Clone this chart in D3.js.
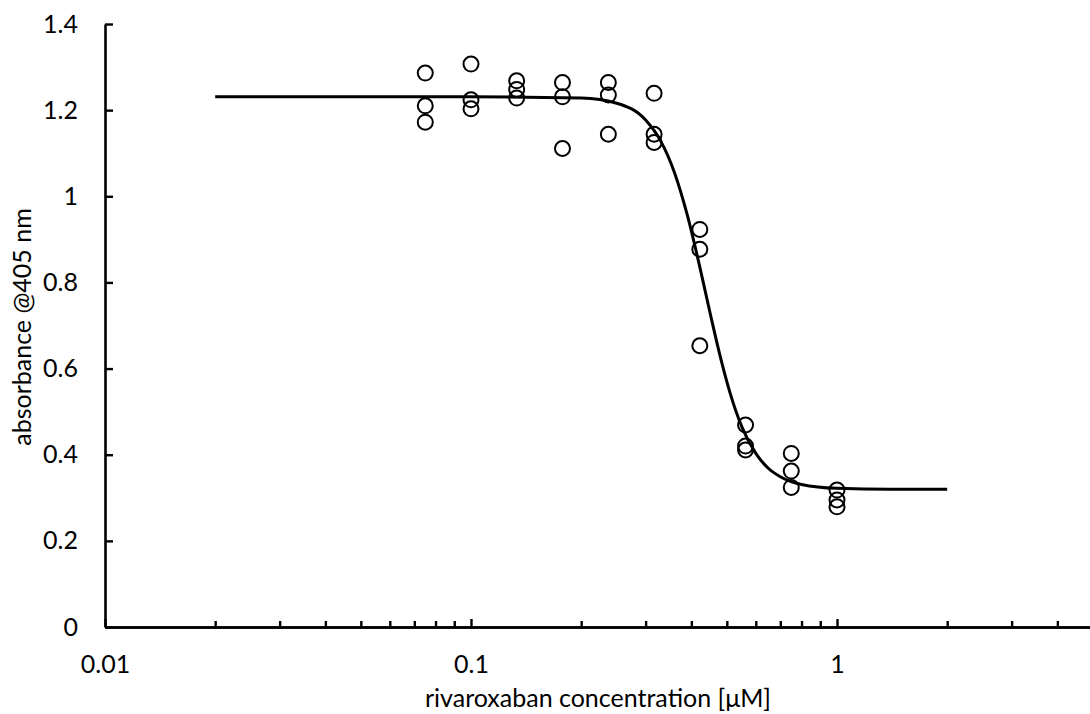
<!DOCTYPE html>
<html>
<head>
<meta charset="utf-8">
<script src="https://cdnjs.cloudflare.com/ajax/libs/d3/7.8.5/d3.min.js"></script>
<style>
  body { margin: 0; background: #fff; }
  svg { display: block; }
  text { font-family: Lato, "Open Sans", sans-serif; fill: #000; }
</style>
</head>
<body>
<div id="chart"></div>
<script>
// measured concentrations (uM) and absorbance replicates
var conc = [0.075, 0.1, 0.1333, 0.1778, 0.2373, 0.3164, 0.4219, 0.5625, 0.75, 1.0];
var rep1 = [1.286, 1.307, 1.268, 1.264, 1.264, 1.239, 0.923, 0.469, 0.403, 0.318];
var rep2 = [1.210, 1.224, 1.248, 1.231, 1.235, 1.144, 0.877, 0.420, 0.362, 0.295];
var rep3 = [1.172, 1.203, 1.228, 1.111, 1.144, 1.125, 0.653, 0.411, 0.324, 0.279];

// fitted curve
var fitX = [0.02, 0.1, 0.2, 0.25, 0.3, 0.33, 0.36, 0.39, 0.42, 0.45, 0.48, 0.51, 0.55, 0.6, 0.65, 0.7, 0.8, 1.0, 1.4, 2.0];
var fitY = [1.231, 1.231, 1.228, 1.216, 1.177, 1.128, 1.054, 0.956, 0.843, 0.729, 0.627, 0.544, 0.464, 0.403, 0.368, 0.349, 0.331, 0.322, 0.320, 0.320];

var majorTicks = [0.01, 0.1, 1];
var minorTicks = [0.02, 0.03, 0.04, 0.05, 0.06, 0.07, 0.08, 0.09,
                  0.2, 0.3, 0.4, 0.5, 0.6, 0.7, 0.8, 0.9,
                  2, 3, 4, 5, 6, 7, 8, 9];
var yTicks = [0, 0.2, 0.4, 0.6, 0.8, 1, 1.2, 1.4];

var width = 1090, height = 714;
var marginLeft = 105, marginTop = 24, axisY = 627;
var fontSize = 25;

var svg = d3.select('#chart').append('svg')
	.attr('width', width)
	.attr('height', height);

// the axis runs on past the right edge of the picture
var x = d3.scaleLog()
	.domain([0.01, 10])
	.range([marginLeft, marginLeft + 366 * 3]);

var y = d3.scaleLinear()
	.domain([0, 1.4])
	.range([axisY, marginTop]);

// y axis
svg.append('g')
	.attr('transform', 'translate(' + marginLeft + ',0)')
	.call(d3.axisLeft(y)
		.tickValues(yTicks)
		.tickSizeInner(-8)
		.tickSizeOuter(0)
		.tickPadding(27)
		.tickFormat(function(d) { return String(+d.toFixed(1)); }));

// x axis, minor ticks first then major with labels
svg.append('g')
	.attr('transform', 'translate(0,' + axisY + ')')
	.call(d3.axisBottom(x)
		.tickValues(minorTicks)
		.tickSizeInner(-6)
		.tickSizeOuter(0)
		.tickFormat(''));

svg.append('g')
	.attr('transform', 'translate(0,' + axisY + ')')
	.call(d3.axisBottom(x)
		.tickValues(majorTicks)
		.tickSizeInner(-8)
		.tickSizeOuter(0)
		.tickPadding(28)
		.tickFormat(function(d) { return String(d); }));

svg.selectAll('.domain')
	.attr('stroke', '#000')
	.attr('stroke-width', 2.6);
svg.selectAll('.tick line')
	.attr('stroke', '#000')
	.attr('stroke-width', 2.4);
svg.selectAll('.tick text')
	.attr('font-family', 'Lato, "Open Sans", sans-serif')
	.attr('font-size', fontSize)
	.attr('fill', '#000');

// axis titles
svg.append('text')
	.attr('x', 598)
	.attr('y', 707)
	.attr('text-anchor', 'middle')
	.attr('font-size', fontSize)
	.text('rivaroxaban concentration [μM]');

svg.append('text')
	.attr('transform', 'translate(31,327) rotate(-90)')
	.attr('text-anchor', 'middle')
	.attr('font-size', fontSize)
	.text('absorbance @405 nm');

// fitted line
var line = d3.line()
	.x(function(d) { return x(d[0]); })
	.y(function(d) { return y(d[1]); })
	.curve(d3.curveMonotoneX);

svg.append('path')
	.datum(d3.zip(fitX, fitY))
	.attr('d', line)
	.attr('fill', 'none')
	.attr('stroke', '#000')
	.attr('stroke-width', 3);

// data points
var points = [];
[rep1, rep2, rep3].forEach(function(rep) {
	rep.forEach(function(v, i) { points.push([conc[i], v]); });
});

svg.append('g')
	.selectAll('circle')
	.data(points)
	.enter()
	.append('circle')
	.attr('cx', function(d) { return x(d[0]); })
	.attr('cy', function(d) { return y(d[1]); })
	.attr('r', 7.5)
	.attr('fill', 'none')
	.attr('stroke', '#000')
	.attr('stroke-width', 2);
</script>
</body>
</html>
